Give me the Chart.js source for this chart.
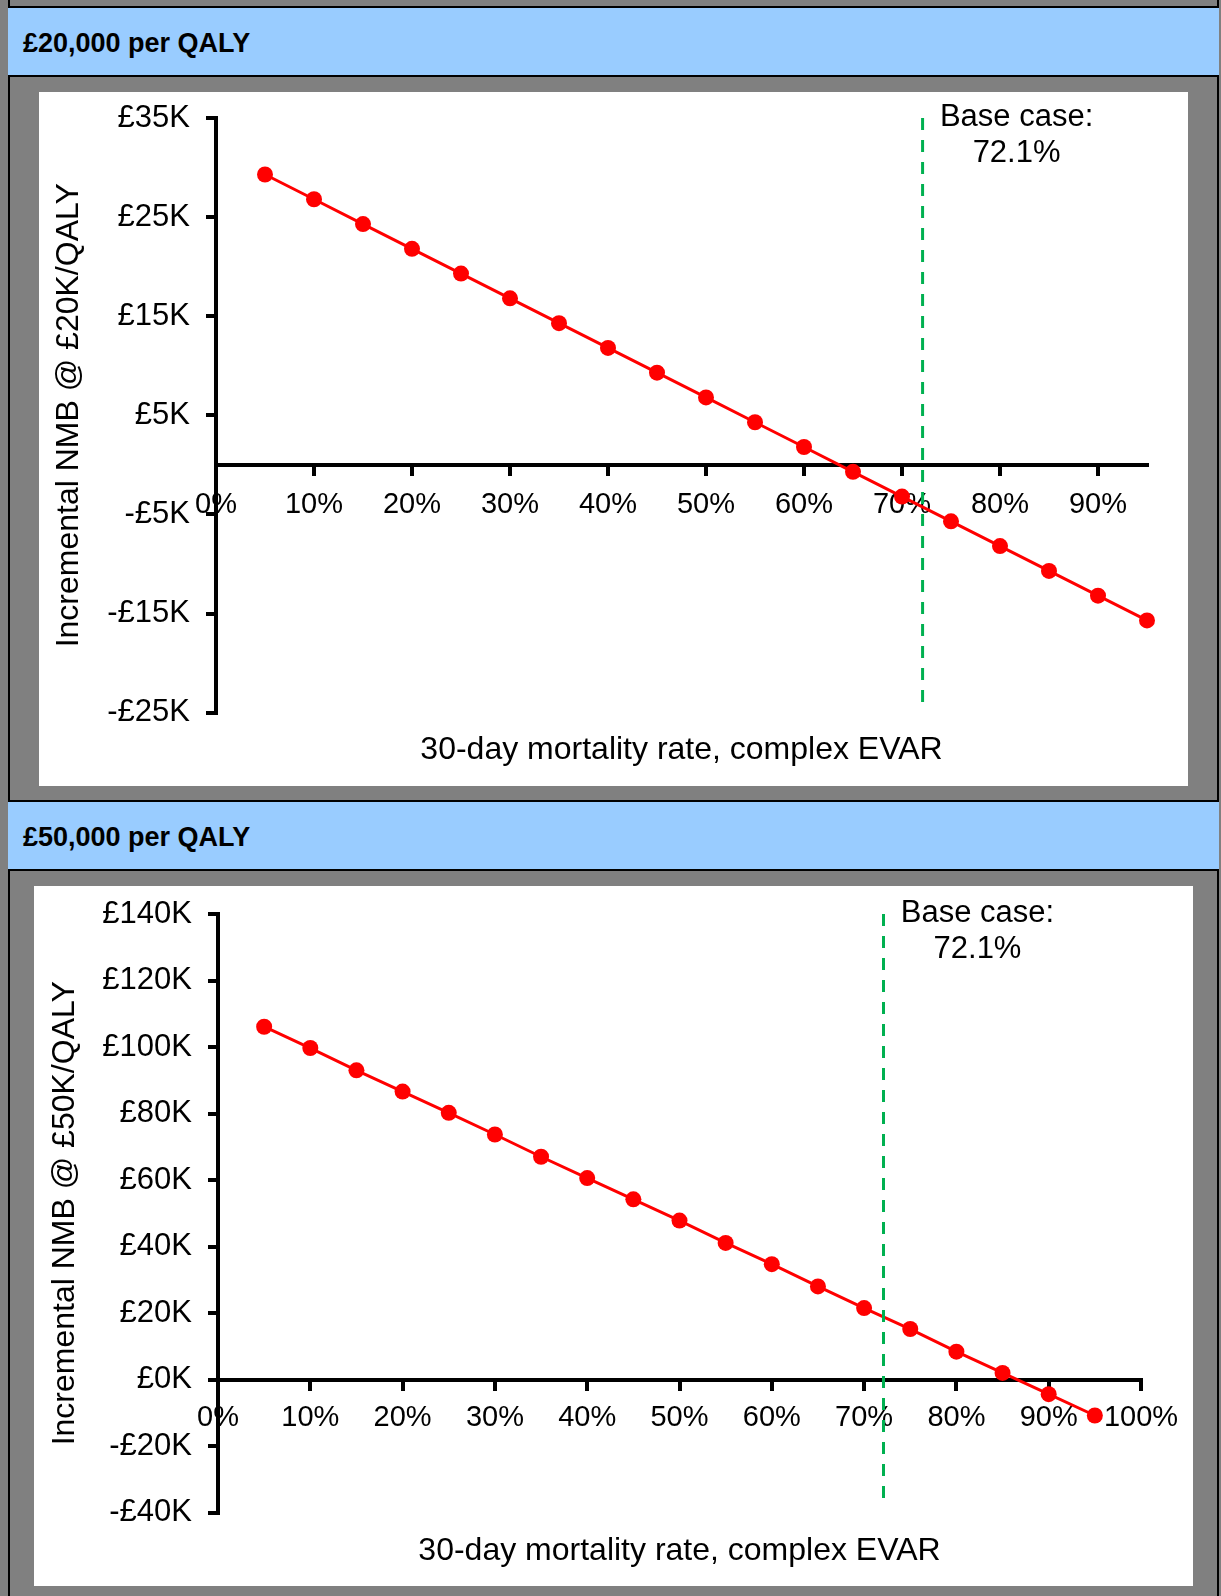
<!DOCTYPE html>
<html>
<head>
<meta charset="utf-8">
<script src="https://cdn.jsdelivr.net/npm/chart.js@4.4.1/dist/chart.umd.min.js"></script>
<style>
  body { margin: 0; width: 1221px; height: 1596px; background: #808080; position: relative; overflow: hidden;
         font-family: "Liberation Sans", Arial, sans-serif; }
  .vline { position: absolute; top: 0; height: 1596px; width: 2px; background: #000; }
  .header { position: absolute; left: 8px; width: 1211px; height: 71px; box-sizing: border-box;
            background: #99ccff; border-top: 2px solid #000; border-bottom: 2px solid #000; }
  .htext { position: absolute; left: 23px; font-size: 27px; font-weight: bold; line-height: 27px; color: #000; white-space: nowrap; }
  .panel { position: absolute; background: #fff; }
  canvas { display: block; }
</style>
</head>
<body>
<div class="vline" style="left:8px"></div>
<div class="vline" style="left:1217px"></div>

<div class="header" style="top:6px"></div>
<div class="htext" style="top:30px">£20,000 per QALY</div>
<div class="panel" style="left:39px; top:92px; width:1149px; height:694px">
  <canvas id="chart20" width="1149" height="694"></canvas>
</div>

<div class="header" style="top:800px"></div>
<div class="htext" style="top:824px">£50,000 per QALY</div>
<div class="panel" style="left:34px; top:886px; width:1159px; height:700px">
  <canvas id="chart50" width="1159" height="700"></canvas>
</div>

<script>
// 30-day mortality rate (%), complex EVAR
const mortality = [5, 10, 15, 20, 25, 30, 35, 40, 45, 50, 55, 60, 65, 70, 75, 80, 85, 90, 95];
// incremental NMB in £K
const nmb20k = [29.3, 26.8, 24.3, 21.8, 19.3, 16.8, 14.3, 11.8, 9.3, 6.8, 4.3, 1.8, -0.7, -3.2, -5.7, -8.2, -10.7, -13.2, -15.7];
const nmb50k = [106.1, 99.7, 93.0, 86.6, 80.2, 73.7, 67.0, 60.6, 54.2, 47.8, 41.1, 34.7, 28.0, 21.5, 15.2, 8.4, 2.0, -4.4, -10.8];
const baseCase = 72.1;
const baseLine20 = [35, -24];
const baseLine50 = [140, -37];

const FONT = '"Liberation Sans", Arial, sans-serif';

function money(v) {
  return v < 0 ? '-£' + Math.abs(v) + 'K' : '£' + v + 'K';
}

const baseCaseLabel = {
  id: 'baseCaseLabel',
  afterDatasetsDraw(chart, args, opts) {
    const ctx = chart.ctx;
    const x = chart.scales.x.getPixelForValue(opts.value) + opts.dx;
    const top = chart.chartArea.top;
    ctx.save();
    ctx.font = '31px ' + FONT;
    ctx.fillStyle = '#000';
    ctx.textAlign = 'center';
    ctx.textBaseline = 'alphabetic';
    ctx.fillText('Base case:', x, top + 8);
    ctx.fillText(opts.value + '%', x, top + 44);
    ctx.restore();
  }
};

function makeChart(id, s) {
  const points = mortality.map((m, i) => ({x: m, y: s.values[i]}));
  const baseLine = s.baseLine.map(v => ({x: baseCase, y: v}));
  return new Chart(document.getElementById(id), {
    type: 'line',
    data: {
      datasets: [{
        data: baseLine,
        borderColor: '#00b050',
        borderWidth: 3,
        borderDash: [12, 10],
        pointRadius: 0,
        fill: false
      }, {
        data: points,
        borderColor: '#ff0000',
        backgroundColor: '#ff0000',
        borderWidth: 3,
        pointRadius: 8,
        pointBorderWidth: 0,
        tension: 0,
        fill: false,
        clip: false
      }]
    },
    options: {
      responsive: false,
      animation: false,
      devicePixelRatio: 1,
      layout: { padding: s.padding },
      plugins: {
        legend: { display: false },
        tooltip: { enabled: false },
        title: {
          display: true, position: 'bottom', fullSize: false,
          text: '30-day mortality rate, complex EVAR',
          color: '#000', font: { size: 32, weight: 'normal', family: FONT },
          padding: s.titlePad
        },
        baseCaseLabel: { value: baseCase, dx: 94 }
      },
      scales: {
        x: {
          type: 'linear', min: 0, max: s.xMax, position: { y: 0 },
          ticks: {
            stepSize: 10, includeBounds: false, autoSkip: false, maxRotation: 0,
            color: '#000', font: { size: 29, family: FONT }, padding: s.xTickPad,
            callback: v => v + '%'
          },
          grid: { drawOnChartArea: false, drawTicks: true, tickLength: 9, color: '#000', lineWidth: 4 },
          border: { color: '#000', width: 4 },
          afterFit: sc => { sc.height = 0; }
        },
        y: {
          min: s.yMin, max: s.yMax,
          ticks: {
            stepSize: s.yStep, color: '#000', font: { size: 31, family: FONT }, padding: 16,
            callback: v => money(v)
          },
          grid: { drawOnChartArea: false, drawTicks: true, tickLength: 10, color: '#000', lineWidth: 4 },
          border: { color: '#000', width: 4 },
          title: {
            display: true, text: s.yTitle, color: '#000',
            font: { size: 32, family: FONT }, padding: { top: s.yTitleTop, bottom: 0 }
          },
          afterFit: sc => { sc.width = s.yWidth; sc.paddingTop = 0; sc.paddingBottom = 0; }
        }
      }
    },
    plugins: [baseCaseLabel]
  });
}

makeChart('chart20', {
  values: nmb20k, baseLine: baseLine20, xMax: 95,
  yMin: -25, yMax: 35, yStep: 10, yTitle: 'Incremental NMB @ £20K/QALY',
  yWidth: 177, yTitleTop: 11, xTickPad: 14,
  padding: { top: 26, right: 41, left: 0, bottom: 0 },
  titlePad: { top: 18, bottom: 17 }
});

makeChart('chart50', {
  values: nmb50k, baseLine: baseLine50, xMax: 100,
  yMin: -40, yMax: 140, yStep: 20, yTitle: 'Incremental NMB @ £50K/QALY',
  yWidth: 184, yTitleTop: 12, xTickPad: 12,
  padding: { top: 28, right: 52, left: 0, bottom: 0 },
  titlePad: { top: 19, bottom: 16 }
});
</script>
</body>
</html>
